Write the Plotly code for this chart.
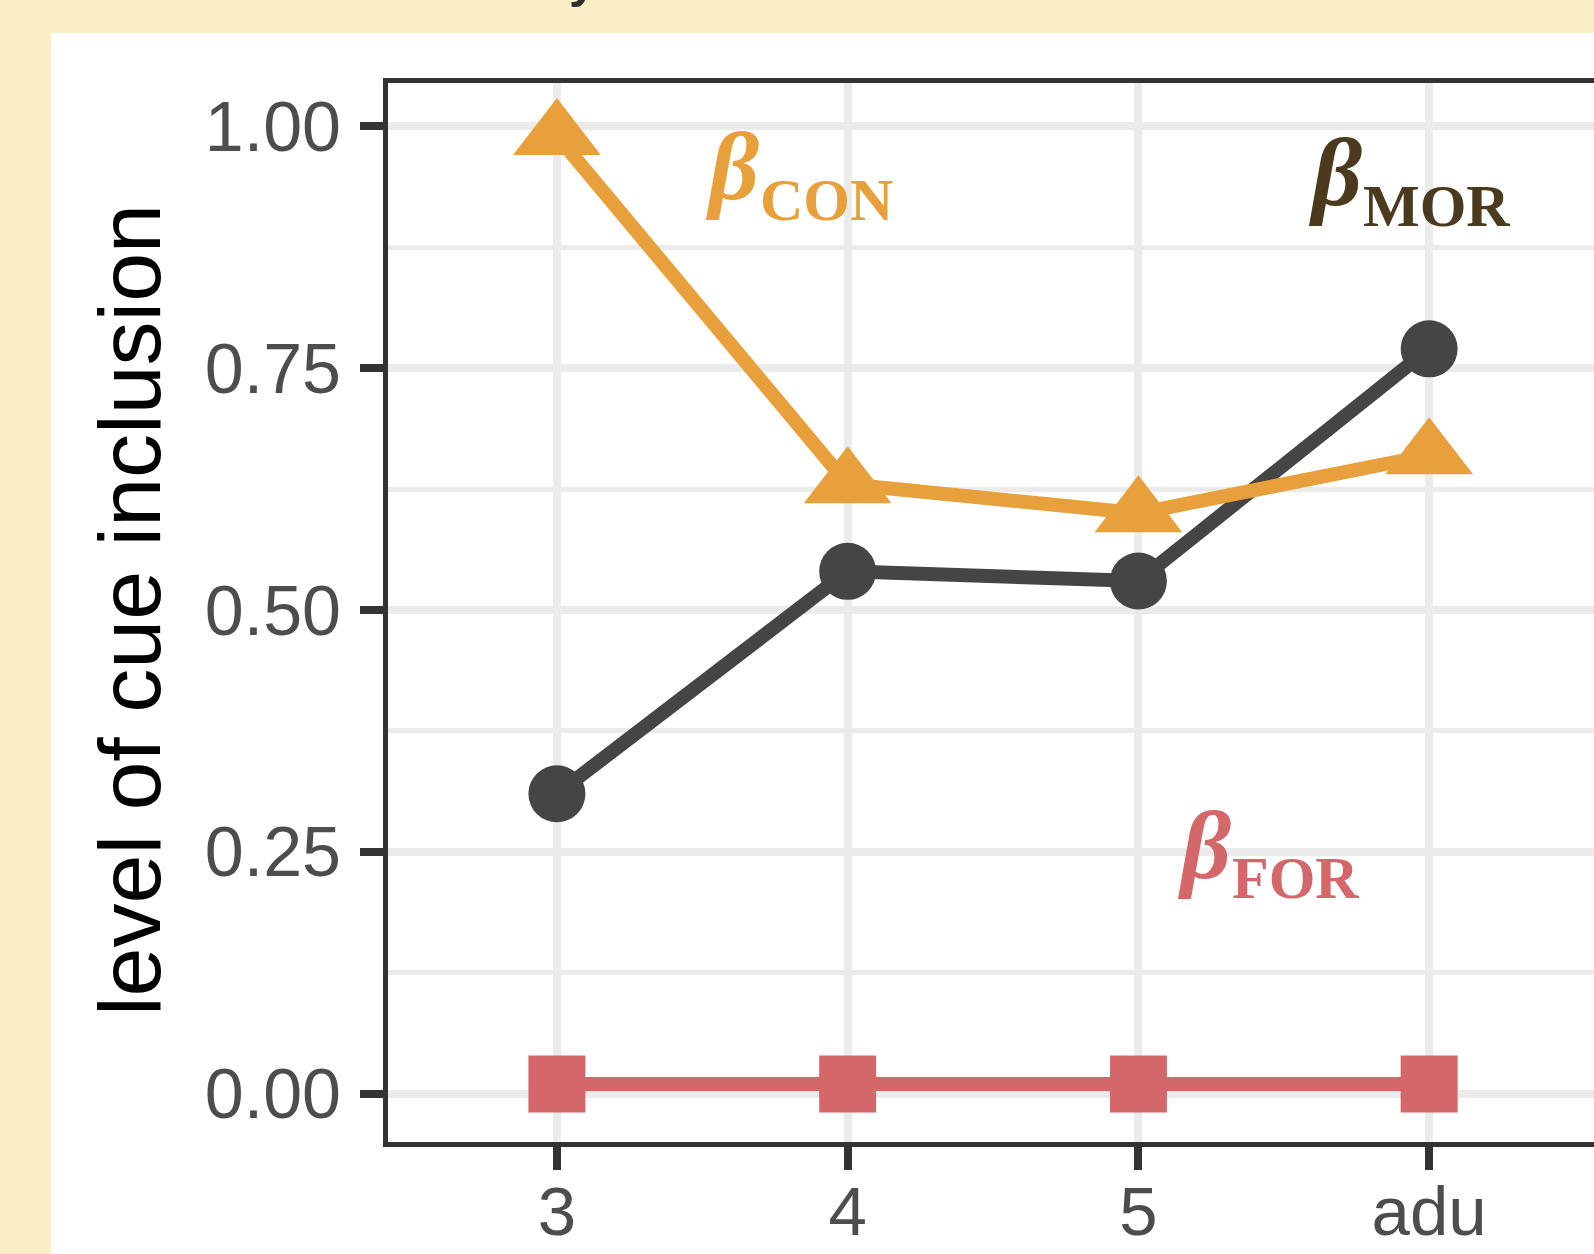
import plotly.graph_objects as go

# ---- data ----
ages = ["3", "4", "5", "adu"]
beta_mor = [0.31, 0.54, 0.53, 0.77]
beta_con = [0.99, 0.63, 0.60, 0.66]
beta_for = [0.01, 0.01, 0.01, 0.01]
y_ticks = [0.0, 0.25, 0.5, 0.75, 1.0]

C_ORANGE = "#E7A03C"
C_DARK = "#454545"
C_RED = "#D3676A"
C_BROWN = "#4C3A1E"
CREAM = "#FAEEC4"

W, H = 1594, 1254
L, R, T, B = 388, 0, 78, 112
PW, PH = W - L - R, H - T - B


def px(x):
    return (x - L) / PW


def py(y):
    return (H - B - y) / PH


fig = go.Figure()

fig.add_trace(go.Scatter(
    x=ages, y=beta_for, mode="lines+markers", name="FOR",
    line=dict(color=C_RED, width=14),
    marker=dict(symbol="square", size=57, color=C_RED),
))
fig.add_trace(go.Scatter(
    x=ages, y=beta_mor, mode="lines+markers", name="MOR",
    line=dict(color=C_DARK, width=14),
    marker=dict(symbol="circle", size=57, color=C_DARK),
))
fig.add_trace(go.Scatter(
    x=ages, y=beta_con, mode="lines+markers", name="CON",
    line=dict(color=C_ORANGE, width=14),
    marker=dict(symbol="triangle-up", size=76, color=C_ORANGE),
))

serif = "Liberation Serif"
annots = []


def beta_label(bx, by, sx, sy, sub, color):
    annots.append(dict(
        xref="paper", yref="paper", x=px(bx), y=py(by), text="<b><i>β</i></b>",
        showarrow=False, xanchor="center", yanchor="middle",
        font=dict(family=serif, size=98, color=color)))
    annots.append(dict(
        xref="paper", yref="paper", x=px(sx), y=py(sy), text="<b>" + sub + "</b>",
        showarrow=False, xanchor="center", yanchor="middle",
        font=dict(family=serif, size=60, color=color)))


beta_label(732, 166, 826, 200, "CON", C_ORANGE)
beta_label(1335, 172, 1436, 206, "MOR", C_BROWN)
beta_label(1204, 845, 1295, 878, "FOR", C_RED)

# y-axis title
annots.append(dict(
    xref="paper", yref="paper", x=px(129), y=py(610), text="level of cue inclusion",
    showarrow=False, xanchor="center", yanchor="middle", textangle=-90,
    font=dict(family="Liberation Sans", size=88, color="black")))

# partially visible title above the cropped panel
annots.append(dict(
    xref="paper", yref="paper", x=px(583), y=py(-20), text="<b>y</b>",
    showarrow=False, xanchor="center", yanchor="middle",
    font=dict(family="Liberation Sans", size=50, color="#2E2E2E")))

shapes = [
    # white panel on cream background
    dict(type="rect", xref="paper", yref="paper", x0=px(51), x1=1.2, y0=-0.3, y1=py(33),
         fillcolor="white", line=dict(width=0), layer="below"),
    # top border of plot frame
    dict(type="line", xref="paper", yref="paper", x0=px(383.3), x1=1.2, y0=py(80.5), y1=py(80.5),
         line=dict(color="#333333", width=5), layer="above"),
]

fig.update_layout(
    width=W, height=H, autosize=False,
    margin=dict(l=L, r=R, t=T, b=B, pad=0),
    paper_bgcolor=CREAM, plot_bgcolor="white",
    showlegend=False,
    annotations=annots, shapes=shapes,
    xaxis=dict(
        type="category", range=[-0.581, 3.567], automargin=False,
        showgrid=True, gridcolor="#EBEBEB", gridwidth=8,
        showline=True, linecolor="#333333", linewidth=5,
        ticks="outside", ticklen=23, tickwidth=8, tickcolor="#333333",
        ticklabelstandoff=-18,
        tickfont=dict(family="Liberation Sans", size=69, color="#4D4D4D"),
        zeroline=False,
    ),
    yaxis=dict(
        range=[-0.05, 1.05], tickvals=y_ticks, tickformat=".2f", automargin=False,
        showgrid=True, gridcolor="#EBEBEB", gridwidth=8,
        minor=dict(dtick=0.125, tick0=0, showgrid=True, gridcolor="#EBEBEB", gridwidth=5, ticks=""),
        showline=True, linecolor="#333333", linewidth=5,
        ticks="outside", ticklen=23, tickwidth=8, tickcolor="#333333",
        ticklabelstandoff=5,
        tickfont=dict(family="Liberation Sans", size=70, color="#4D4D4D"),
        zeroline=False,
    ),
)

fig.write_html(
    "out.html",
    config={"displayModeBar": False},
    post_script="document.body.style.margin='0';document.body.style.overflow='hidden';",
)
